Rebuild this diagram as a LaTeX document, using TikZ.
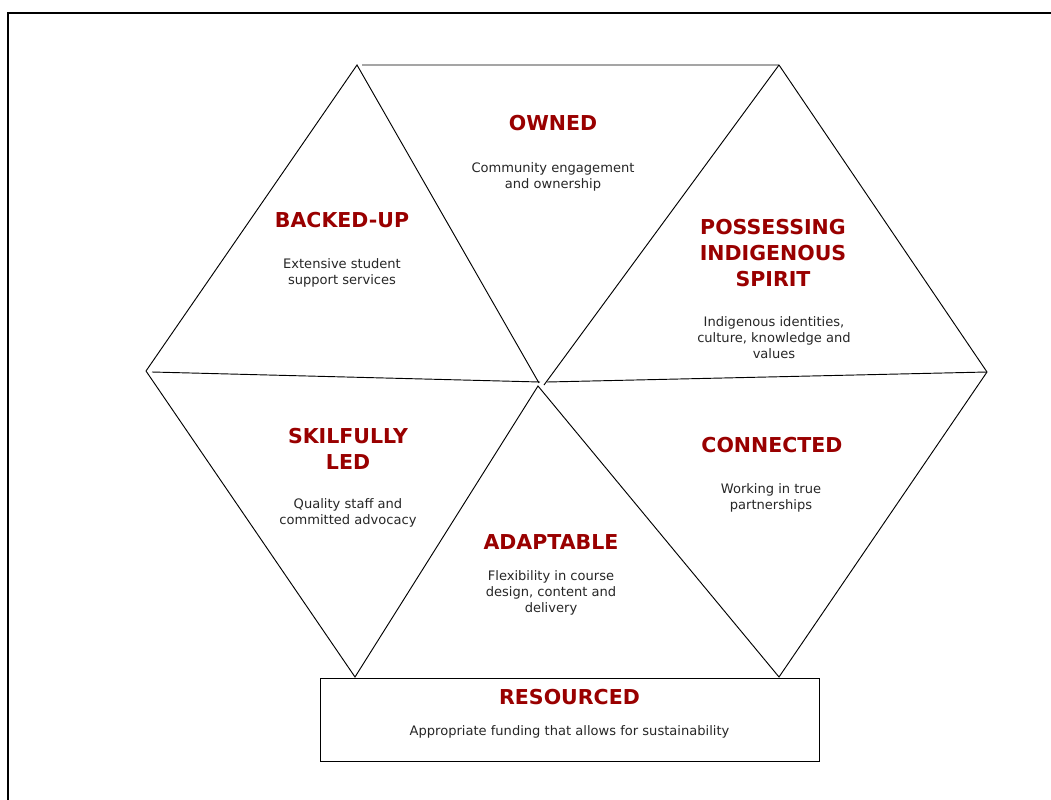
\documentclass[tikz,border=0pt]{standalone}
\usepackage{fontspec}
\setmainfont{DejaVu Sans}
\usepackage{xcolor}
\definecolor{deepred}{RGB}{153,0,0}
\tikzset{
  edge/.style={line width=0.7pt,black},
  head/.style={font=\fontsize{15.4}{19.5}\selectfont\bfseries,text=deepred,align=center,inner sep=0pt},
  body/.style={font=\fontsize{9.8}{12}\selectfont,text=black!85,align=center,inner sep=0pt}
}
\begin{document}
\begin{tikzpicture}[x=0.75pt,y=-0.75pt]
\clip (0,0) rectangle (1051,800);
\draw[line width=1.6pt] (8,13) rectangle (1100,860);
\coordinate (tl) at (357,65);
\coordinate (tt) at (362,65);
\coordinate (tr) at (779,65);
\coordinate (lv) at (146,371);
\coordinate (lh) at (152,372);
\coordinate (rv) at (987,372);
\coordinate (cl) at (540,382);
\coordinate (cr) at (547,382);
\coordinate (cu) at (539,383);
\coordinate (cv) at (544,385);
\coordinate (cd) at (538,386);
\coordinate (bl) at (355,677);
\coordinate (br) at (779,677);
\draw[edge] (lv) -- (tl) -- (cu);
\draw[edge] (tt) -- (tr) -- (rv);
\draw[edge] (tr) -- (cv);
\draw[edge] (lh) -- (cl);
\draw[edge] (cr) -- (rv);
\draw[edge] (lv) -- (bl) -- (cd) -- (br) -- (rv);
\draw[edge] (320,678) rectangle (819,761);
\node[head] (owned) at (553,123.5) {OWNED};
\node[body] (ownedtx) at (553,177) {Community engagement\\and ownership};
\node[head] (backed) at (342,220.5) {BACKED-UP};
\node[body] (backedtx) at (342,273) {Extensive student\\support services};
\node[head] (spirit) at (773,253) {POSSESSING\\INDIGENOUS\\SPIRIT};
\node[body] (spirittx) at (774,338) {Indigenous identities,\\culture, knowledge and\\values};
\node[head] (skilled) at (348,448.5) {SKILFULLY\\LED};
\node[body] (skilledtx) at (348,513) {Quality staff and\\committed advocacy};
\node[head] (connected) at (772,445) {CONNECTED};
\node[body] (connectedtx) at (771,498) {Working in true\\partnerships};
\node[head] (adapt) at (551,542) {ADAPTABLE};
\node[body] (adapttx) at (551,593) {Flexibility in course\\design, content and\\delivery};
\node[head] (resourced) at (569.5,697.5) {RESOURCED};
\node[body] (resourcedtx) at (569.5,732) {Appropriate funding that allows for sustainability};
\end{tikzpicture}
\end{document}
